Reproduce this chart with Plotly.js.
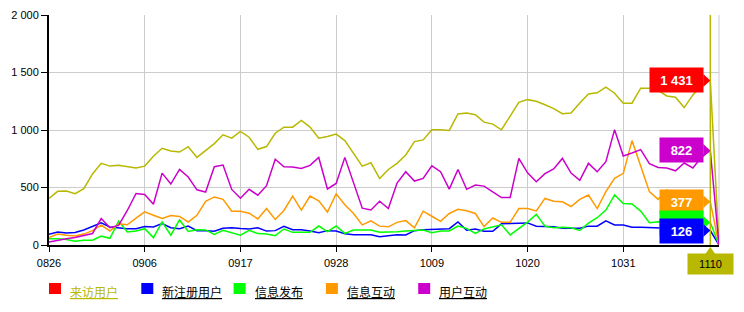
<!DOCTYPE html>
<html><head><meta charset="utf-8">
<script src="https://cdn.plot.ly/plotly-3.0.1.min.js"></script>
<style>html,body{margin:0;padding:0;background:#fff;} #chart{width:744px;height:312px;}</style>
</head><body><div id="chart"></div>
<script>
// ---- data ----
const dates = ['0826','0827','0828','0829','0830','0831',
'0901','0902','0903','0904','0905','0906','0907','0908','0909','0910','0911','0912','0913','0914','0915',
'0916','0917','0918','0919','0920','0921','0922','0923','0924','0925','0926','0927','0928','0929','0930',
'1001','1002','1003','1004','1005','1006','1007','1008','1009','1010','1011','1012','1013','1014','1015',
'1016','1017','1018','1019','1020','1021','1022','1023','1024','1025','1026','1027','1028','1029','1030','1031',
'1101','1102','1103','1104','1105','1106','1107','1108','1109','1110','1111'];
const tickLabels = ['0826','0906','0917','0928','1009','1020','1031'];
const hoverDate = '1110';
const seriesNames = ['来访用户','新注册用户','信息发布','信息互动','用户互动'];

const visitors = [405,467,470,446,490,618,710,686,693,678,669,686,772,841,818,808,855,762,820,882,
958,929,987,937,832,856,972,1025,1025,1083,1025,929,943,964,908,791,686,715,578,657,
710,783,899,914,1002,1002,996,1139,1148,1133,1068,1051,1002,1120,1241,1264,1250,1220,1186,1142,
1148,1235,1314,1323,1372,1320,1233,1233,1364,1364,1345,1296,1285,1195,1305,1390,1431,0];
const newUsers = [94,113,105,108,130,160,192,157,150,142,142,160,157,186,150,142,165,124,124,120,
145,150,143,140,150,121,125,163,133,133,122,106,125,122,98,90,90,90,72,81,
89,88,125,133,135,141,142,201,128,138,119,119,184,186,192,192,164,164,158,146,
146,146,164,163,210,174,174,154,154,152,145,145,143,140,138,135,126,0];
const infoPublish = [55,55,47,33,41,41,77,58,208,113,121,142,64,201,85,218,118,133,131,93,
128,104,85,128,99,96,81,139,110,110,110,165,116,165,101,130,130,130,110,110,
116,122,125,130,107,122,122,165,145,101,140,158,175,88,140,199,266,164,150,155,
150,126,190,237,304,435,360,357,295,194,203,200,195,200,205,200,195,0];
const infoInteract = [65,95,85,78,95,125,172,122,185,176,233,288,259,230,257,248,200,258,380,418,
397,294,294,277,227,317,222,300,425,303,426,385,287,445,350,274,175,210,164,158,
197,212,149,294,250,206,274,310,297,274,160,235,197,197,317,317,296,405,380,376,
335,397,434,317,464,580,623,908,687,464,397,478,440,400,390,380,377,0];
const userInteract = [25,42,55,65,85,100,230,150,170,300,448,440,355,625,530,658,591,480,460,681,
695,483,407,484,433,516,746,680,678,666,692,761,487,535,762,540,320,305,381,317,
538,637,556,579,689,637,486,657,484,521,512,463,413,413,753,627,550,620,662,753,
626,562,710,637,725,1003,774,800,829,707,674,670,645,713,670,765,822,0];

const lineColors = ['#b8b800','#0000ff','#00ff00','#ff9900','#cc00cc'];
const legendColors = ['#ff0000','#0000ff','#00ff00','#ff9900','#cc00cc'];
const olive = '#b8b800';

// ---- build ----
const allSeries = [visitors, newUsers, infoPublish, infoInteract, userInteract];
const traces = allSeries.map((vals, k) => ({
  type: 'scatter', mode: 'lines', x: dates, y: vals, name: seriesNames[k],
  line: {color: lineColors[k], width: 1.5}, hoverinfo: 'skip', showlegend: false
}));

const fmt = v => String(v).replace(/\B(?=(\d{3})+(?!\d))/g, ' ');
const idx = dates.indexOf(hoverDate);   // category position of the hovered date
const yMax = 2000, plotH = 230;         // used to tell when a hover label is covered by the next one
const shapes = [];
const annotations = [];

// right plot border (grid colour)
shapes.push({type:'line', xref:'paper', yref:'paper', x0:1, x1:1, y0:0, y1:1,
  line:{color:'#cccccc', width:1}, layer:'below'});
// hover spike line
shapes.push({type:'line', xref:'x', yref:'paper', x0:idx, x1:idx, y0:0, y1:1,
  line:{color:olive, width:1.5}, layer:'above'});

// hover labels, drawn highest value first (a lower label covers the one above it)
const order = allSeries.map((s, k) => k).sort((a, b) => allSeries[b][idx] - allSeries[a][idx]);
order.forEach((k, j) => {
  const v = allSeries[k][idx];
  const next = j + 1 < order.length ? allSeries[order[j + 1]][idx] : -1e9;
  const covered = (v - next) * plotH / yMax < 14;   // text hidden under the following label
  const txt = fmt(v);
  shapes.push({type:'path', xref:'x', yref:'y', xsizemode:'pixel', ysizemode:'pixel',
    xanchor: idx, yanchor: v, path:'M -7 6.5 L 0 0 L -7 -6.5 Z',
    fillcolor: legendColors[k], line:{width:0}, layer:'above'});
  annotations.push({xref:'x', yref:'y', x: idx, y: v, showarrow:false,
    xanchor:'right', yanchor:'middle', xshift:-6, text: covered ? ' ' : '<b>'+txt+'</b>',
    width: txt.length > 3 ? 53 : 43, height: 24, borderpad:0, bgcolor: legendColors[k],
    font:{family:'Liberation Sans, Arial, sans-serif', size:13, color:'#ffffff'}});
});

// x hover label
shapes.push({type:'path', xref:'x', yref:'paper', xsizemode:'pixel', ysizemode:'pixel',
  xanchor: idx, yanchor: 0, path:'M -5 -9 L 0 -2 L 5 -9 Z', fillcolor: olive, line:{width:0}, layer:'above'});
annotations.push({xref:'x', yref:'paper', x: idx, y: 0, showarrow:false, xanchor:'center', yanchor:'top',
  yshift:-8, text: hoverDate, width:45, height:20, borderpad:0, bgcolor: olive,
  font:{family:'Liberation Sans, Arial, sans-serif', size:11, color:'#000000'}});

// legend
seriesNames.forEach((nm, k) => {
  shapes.push({type:'rect', xref:'paper', yref:'paper', xsizemode:'pixel', ysizemode:'pixel',
    xanchor:0, yanchor:0, x0: k*92.3, x1: k*92.3 + 12, y0:-38, y1:-49,
    fillcolor: legendColors[k], line:{width:0}});
  annotations.push({xref:'paper', yref:'paper', x:0, y:0, xanchor:'left', yanchor:'middle',
    xshift: 19 + k*92.3, yshift:-46.5, showarrow:false,
    text:'<span style="text-decoration:underline">' + nm + '</span>',
    font:{family:'Noto Sans CJK SC, sans-serif', size:12, color: k === 0 ? olive : '#000000'}});
});

const layout = {
  width:744, height:312,
  margin:{l:49, r:25, t:15, b:67},
  paper_bgcolor:'#ffffff', plot_bgcolor:'#ffffff',
  separators:'. ',
  showlegend:false,
  font:{family:'Liberation Sans, Arial, sans-serif', size:11, color:'#000'},
  xaxis:{type:'category', categoryorder:'array', categoryarray: dates,
    range:[0, dates.length - 1], tickmode:'array', tickvals: tickLabels, ticktext: tickLabels,
    showgrid:true, gridcolor:'#cccccc', gridwidth:1, zeroline:false,
    showline:true, linecolor:'#000', linewidth:2, ticks:'outside', ticklen:5, tickwidth:1, tickcolor:'#000',
    tickfont:{size:11, color:'#000'}, ticklabelstandoff:2, fixedrange:true},
  yaxis:{range:[0,yMax], tickmode:'array', tickvals:[0,500,1000,1500,2000], tickformat:',d',
    showgrid:true, gridcolor:'#cccccc', gridwidth:1, zeroline:false,
    showline:true, linecolor:'#000', linewidth:2, ticks:'outside', ticklen:6, tickwidth:1, tickcolor:'#000',
    tickfont:{size:11, color:'#000'}, fixedrange:true},
  shapes: shapes,
  annotations: annotations
};

Plotly.newPlot('chart', traces, layout, {staticPlot:true, displayModeBar:false});
</script>
</body></html>
